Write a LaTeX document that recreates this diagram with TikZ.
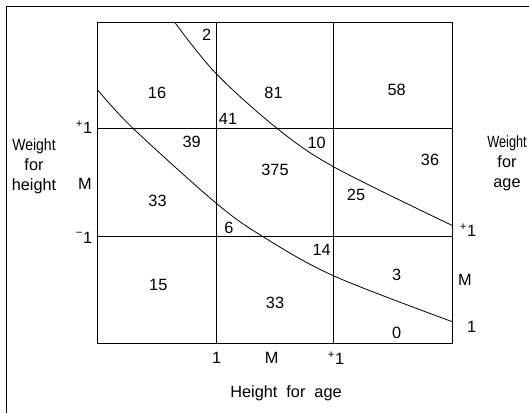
\documentclass[tikz,border=0pt]{standalone}
\usepackage{fontspec}
\setmainfont{Liberation Sans}
\usetikzlibrary{positioning}

\begin{document}
\begin{tikzpicture}[x=1pt, y=-1pt,
    every node/.style={inner sep=0pt, align=center, font=\fontsize{16.3}{20}\selectfont},
    grid/.style={line width=0.5pt},
    curve/.style={line width=0.8pt}]
    \useasboundingbox (0,0) rectangle (529,413);
    \draw[line width=0.8pt] (529,6) -- (6,6) -- (6,413);

    % box and grid lines
    \draw[line width=1pt] (97.7,22.7) rectangle (452.3,343.3);
    \draw[grid] (216,22.7) -- (216,343.3);
    \draw[grid] (333.5,22.7) -- (333.5,343.3);
    \draw[grid] (97.7,128.3) -- (452.3,128.3);
    \draw[grid] (97.7,236.7) -- (452.3,236.7);

    % the two curves
    \draw[curve] plot[smooth, tension=0.55] coordinates {(175,22.7) (216,73.5) (277,128.3) (334,167) (452.3,225.5)};
    \draw[curve] plot[smooth, tension=0.55] coordinates {(97.7,90) (133,128.3) (216,203) (263,236.7) (334,276) (452.3,321.7)};

    % counts
    \node (c2) at (206.7,35) {2};
    \node (c16) at (157,93) {16};
    \node (c81) at (273.5,93) {81};
    \node (c58) at (396.7,90) {58};
    \node (c41) at (228,119) {41};
    \node (c39) at (191.7,142) {39};
    \node (c10) at (316.7,142.5) {10};
    \node (c375) at (275,170) {375};
    \node (c36) at (430,160) {36};
    \node (c33a) at (157.5,201) {33};
    \node (c25) at (356,195) {25};
    \node (c6) at (229,228.3) {6};
    \node (c14) at (321.7,250) {14};
    \node (c3) at (396.7,275) {3};
    \node (c15) at (158.3,285) {15};
    \node (c33b) at (275,303.3) {33};
    \node (c0) at (396.7,332.7) {0};

    % axes
    \node (lp1) at (84,127) {\textsuperscript{+}1};
    \node (lm) at (85,184) {M};
    \node (lm1) at (84,237.5) {\textsuperscript{−}1};
    \node (wh) at (34,166) {\scalebox{0.86}[1]{Weight}\\for\\height};
    \node (rp1) at (468,230) {\textsuperscript{+}1};
    \node (rm) at (465,280) {M};
    \node (rm1) at (471.7,326.7) {1};
    \node (wa) at (507,163) {\scalebox{0.78}[1]{Weight}\\for\\age};
    \node (bm1) at (216.7,358.3) {1};
    \node (bm) at (271.7,358.3) {M};
    \node (bp1) at (336,358.3) {\textsuperscript{+}1};
    \node (ha) [anchor=base] at (286,397.5) {Height\hspace{9pt}for\hspace{9pt}age};
\end{tikzpicture}
\end{document}
